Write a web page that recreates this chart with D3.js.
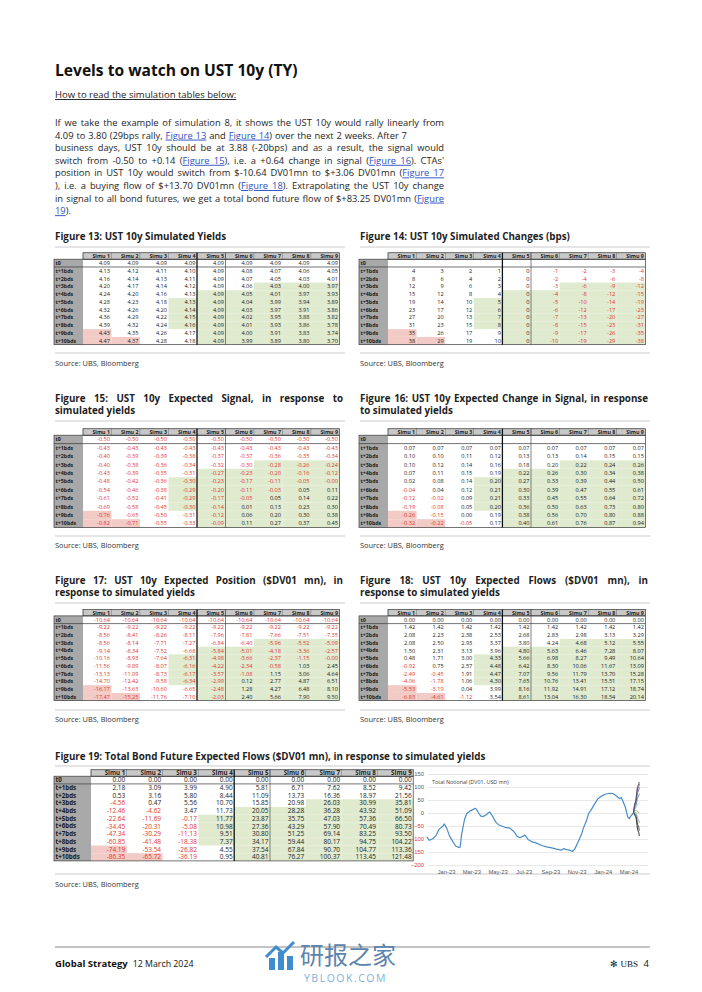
<!DOCTYPE html>
<html>
<head>
<meta charset="utf-8">
<script src="https://cdn.jsdelivr.net/npm/d3@7"></script>
<style>
body { margin: 0; background: #fff; }
svg { display: block; font-family: 'Open Sans', 'Noto Sans', sans-serif; }
text { white-space: pre; }
</style>
</head>
<body>
<svg id="page" width="702" height="992"></svg>
<script>
const simus = ["Simu 1", "Simu 2", "Simu 3", "Simu 4", "Simu 5", "Simu 6", "Simu 7", "Simu 8", "Simu 9"];
const steps = ["t0", "t+1bds", "t+2bds", "t+3bds", "t+4bds", "t+5bds", "t+6bds", "t+7bds", "t+8bds", "t+9bds", "t+10bds"];

// Figure 13 - simulated yields
const yields = [
  [4.09, 4.09, 4.09, 4.09, 4.09, 4.09, 4.09, 4.09, 4.09],
  [4.13, 4.12, 4.11, 4.10, 4.09, 4.08, 4.07, 4.06, 4.05],
  [4.16, 4.14, 4.13, 4.11, 4.09, 4.07, 4.05, 4.03, 4.01],
  [4.20, 4.17, 4.14, 4.12, 4.09, 4.06, 4.03, 4.00, 3.97],
  [4.24, 4.20, 4.16, 4.13, 4.09, 4.05, 4.01, 3.97, 3.93],
  [4.28, 4.23, 4.18, 4.13, 4.09, 4.04, 3.99, 3.94, 3.89],
  [4.32, 4.26, 4.20, 4.14, 4.09, 4.03, 3.97, 3.91, 3.86],
  [4.36, 4.29, 4.22, 4.15, 4.09, 4.02, 3.95, 3.88, 3.82],
  [4.39, 4.32, 4.24, 4.16, 4.09, 4.01, 3.93, 3.86, 3.78],
  [4.43, 4.35, 4.26, 4.17, 4.09, 4.00, 3.91, 3.83, 3.74],
  [4.47, 4.37, 4.28, 4.18, 4.09, 3.99, 3.89, 3.80, 3.70]
];
// Figure 14 - simulated changes (bps)
const yieldChanges = [
  null,
  [4, 3, 2, 1, 0, -1, -2, -3, -4],
  [8, 6, 4, 2, 0, -2, -4, -6, -8],
  [12, 9, 6, 3, 0, -3, -6, -9, -12],
  [15, 12, 8, 4, 0, -4, -8, -12, -15],
  [19, 14, 10, 5, 0, -5, -10, -14, -19],
  [23, 17, 12, 6, 0, -6, -12, -17, -23],
  [27, 20, 13, 7, 0, -7, -13, -20, -27],
  [31, 23, 15, 8, 0, -8, -15, -23, -31],
  [35, 26, 17, 9, 0, -9, -17, -26, -35],
  [38, 29, 19, 10, 0, -10, -19, -29, -38]
];
// Figure 15 - expected signal
const signal = [
  [-0.50, -0.50, -0.50, -0.50, -0.50, -0.50, -0.50, -0.50, -0.50],
  [-0.43, -0.43, -0.43, -0.43, -0.43, -0.43, -0.43, -0.43, -0.43],
  [-0.40, -0.39, -0.39, -0.38, -0.37, -0.37, -0.36, -0.35, -0.34],
  [-0.40, -0.38, -0.36, -0.34, -0.32, -0.30, -0.28, -0.26, -0.24],
  [-0.43, -0.39, -0.35, -0.31, -0.27, -0.23, -0.20, -0.16, -0.12],
  [-0.48, -0.42, -0.36, -0.30, -0.23, -0.17, -0.11, -0.05, -0],
  [-0.54, -0.46, -0.38, -0.29, -0.20, -0.11, -0.03, 0.05, 0.11],
  [-0.61, -0.52, -0.41, -0.29, -0.17, -0.05, 0.05, 0.14, 0.22],
  [-0.69, -0.58, -0.45, -0.30, -0.14, 0.01, 0.13, 0.23, 0.30],
  [-0.76, -0.65, -0.50, -0.31, -0.12, 0.06, 0.20, 0.30, 0.38],
  [-0.82, -0.71, -0.55, -0.33, -0.09, 0.11, 0.27, 0.37, 0.45]
];
// Figure 16 - expected change in signal
const signalChange = [
  null,
  [0.07, 0.07, 0.07, 0.07, 0.07, 0.07, 0.07, 0.07, 0.07],
  [0.10, 0.10, 0.11, 0.12, 0.13, 0.13, 0.14, 0.15, 0.15],
  [0.10, 0.12, 0.14, 0.16, 0.18, 0.20, 0.22, 0.24, 0.26],
  [0.07, 0.11, 0.15, 0.19, 0.22, 0.26, 0.30, 0.34, 0.38],
  [0.02, 0.08, 0.14, 0.20, 0.27, 0.33, 0.39, 0.44, 0.50],
  [-0.04, 0.04, 0.12, 0.21, 0.30, 0.39, 0.47, 0.55, 0.61],
  [-0.12, -0.02, 0.09, 0.21, 0.33, 0.45, 0.55, 0.64, 0.72],
  [-0.19, -0.08, 0.05, 0.20, 0.36, 0.50, 0.63, 0.73, 0.80],
  [-0.26, -0.15, 0.00, 0.19, 0.38, 0.56, 0.70, 0.80, 0.88],
  [-0.32, -0.22, -0.05, 0.17, 0.40, 0.61, 0.76, 0.87, 0.94]
];
// Figure 17 - expected position ($DV01 mn)
const position = [
  [-10.64, -10.64, -10.64, -10.64, -10.64, -10.64, -10.64, -10.64, -10.64],
  [-9.22, -9.22, -9.22, -9.22, -9.22, -9.22, -9.22, -9.22, -9.22],
  [-8.56, -8.41, -8.26, -8.11, -7.96, -7.81, -7.66, -7.51, -7.35],
  [-8.56, -8.14, -7.71, -7.27, -6.84, -6.40, -5.96, -5.52, -5.09],
  [-9.14, -8.34, -7.52, -6.68, -5.84, -5.01, -4.18, -3.36, -2.57],
  [-10.16, -8.93, -7.64, -6.31, -4.98, -3.66, -2.37, -1.15, -0],
  [-11.56, -9.89, -8.07, -6.16, -4.22, -2.34, -0.58, 1.03, 2.45],
  [-13.13, -11.09, -8.73, -6.17, -3.57, -1.08, 1.15, 3.06, 4.64],
  [-14.70, -12.42, -9.58, -6.34, -2.99, 0.12, 2.77, 4.87, 6.51],
  [-16.17, -13.63, -10.60, -6.65, -2.48, 1.28, 4.27, 6.48, 8.10],
  [-17.47, -15.25, -11.76, -7.10, -2.03, 2.40, 5.66, 7.90, 9.50]
];
// Figure 18 - expected flows ($DV01 mn)
const flows = [
  [0.00, 0.00, 0.00, 0.00, 0.00, 0.00, 0.00, 0.00, 0.00],
  [1.42, 1.42, 1.42, 1.42, 1.42, 1.42, 1.42, 1.42, 1.42],
  [2.08, 2.23, 2.38, 2.53, 2.68, 2.83, 2.98, 3.13, 3.29],
  [2.08, 2.50, 2.93, 3.37, 3.80, 4.24, 4.68, 5.12, 5.55],
  [1.50, 2.31, 3.13, 3.96, 4.80, 5.63, 6.46, 7.28, 8.07],
  [0.48, 1.71, 3.00, 4.33, 5.66, 6.98, 8.27, 9.49, 10.64],
  [-0.92, 0.75, 2.57, 4.48, 6.42, 8.30, 10.06, 11.67, 13.09],
  [-2.49, -0.45, 1.91, 4.47, 7.07, 9.56, 11.79, 13.70, 15.28],
  [-4.06, -1.78, 1.06, 4.30, 7.65, 10.76, 13.41, 15.51, 17.15],
  [-5.53, -3.19, 0.04, 3.99, 8.16, 11.92, 14.91, 17.12, 18.74],
  [-6.83, -4.61, -1.12, 3.54, 8.61, 13.04, 16.30, 18.54, 20.14]
];
// Figure 19 - total bond future expected flows ($DV01 mn)
const totalFlows = [
  [0.00, 0.00, 0.00, 0.00, 0.00, 0.00, 0.00, 0.00, 0.00],
  [2.18, 3.09, 3.99, 4.90, 5.81, 6.71, 7.62, 8.52, 9.42],
  [0.53, 3.16, 5.80, 8.44, 11.09, 13.73, 16.36, 18.97, 21.56],
  [-4.56, 0.47, 5.56, 10.70, 15.85, 20.98, 26.03, 30.99, 35.81],
  [-12.46, -4.62, 3.47, 11.73, 20.05, 28.28, 36.28, 43.92, 51.09],
  [-22.64, -11.69, -0.17, 11.77, 23.87, 35.75, 47.03, 57.36, 66.50],
  [-34.45, -20.31, -5.08, 10.98, 27.36, 43.29, 57.90, 70.49, 80.73],
  [-47.34, -30.29, -11.13, 9.51, 30.80, 51.25, 69.14, 83.25, 93.50],
  [-60.85, -41.48, -18.38, 7.37, 34.17, 59.44, 80.17, 94.75, 104.22],
  [-74.19, -53.54, -26.82, 4.55, 37.54, 67.84, 90.70, 104.77, 113.36],
  [-86.35, -65.72, -36.19, 0.95, 40.81, 76.27, 100.37, 113.45, 121.48]
];

// Total notional history (DV01, USD mn)
const notionalDates = ["2022-11-17","2022-11-23","2022-12-01","2022-12-09","2022-12-16","2022-12-24","2022-12-28","2023-01-03","2023-01-09","2023-01-17","2023-01-24","2023-02-01","2023-02-03","2023-02-06","2023-02-13","2023-02-18","2023-02-26","2023-03-06","2023-03-09","2023-03-13","2023-03-17","2023-03-23","2023-03-29","2023-04-04","2023-04-09","2023-04-13","2023-04-17","2023-04-27","2023-05-03","2023-05-11","2023-05-18","2023-05-30","2023-06-07","2023-06-16","2023-06-22","2023-07-04","2023-07-11","2023-07-19","2023-07-31","2023-08-12","2023-08-23","2023-09-04","2023-09-15","2023-09-27","2023-10-01","2023-10-09","2023-10-16","2023-10-22","2023-10-28","2023-11-05","2023-11-13","2023-11-16","2023-11-24","2023-11-29","2023-12-06","2023-12-14","2023-12-21","2023-12-29","2024-01-06","2024-01-17","2024-01-25","2024-01-29","2024-02-06","2024-02-10","2024-02-13","2024-02-17","2024-02-23","2024-02-28","2024-03-03","2024-03-06","2024-03-12"];
const notionalValues = [-92,-105,-99,-86,-62,-52,-42,-60,-88,-110,-128,-133,-131,-85,-25,-3,8,14,18,14,2,-12,-13,-8,0,4,-6,-35,-45,-50,-55,-58,-70,-90,-95,-85,-102,-110,-116,-125,-130,-134,-139,-143,-137,-141,-143,-148,-138,-110,-80,-62,-30,-2,15,38,55,65,72,76,75,70,60,55,60,45,20,-15,-22,-12,-2];
// next ten business days for the simulated paths
const fanDates = ["2024-03-13","2024-03-14","2024-03-15","2024-03-18","2024-03-19","2024-03-20","2024-03-21","2024-03-22","2024-03-25","2024-03-26"];
const fanColors = ["#1a1a1a", "#3d3d3d", "#7fa3a0", "#9bbb59", "#a9d3c6", "#6f8fb0", "#8064a2", "#6a5a7e", "#4d4d5c"];
const yTicks = [150, 100, 50, 0, -50, -100, -150, -200];
const xTickDates = ["2023-01-01","2023-03-01","2023-05-01","2023-07-01","2023-09-01","2023-11-01","2024-01-01","2024-03-01"];

const RED = "#e2352f", GREEN = "#e0eacf", PINK = "#f3cbc6", LINK = "#2f4fc4";
const HEAD_H = 6.4;
const svg = d3.select("#page");
const parseDate = d3.timeParse("%Y-%m-%d");

/* page heading and intro paragraph */
svg.append("text").attr("x", 55).attr("y", 76).attr("font-size", 15.6).attr("font-weight", 700)
  .attr("fill", "#111").text("Levels to watch on UST 10y (TY)");
svg.append("text").attr("x", 55).attr("y", 98).attr("font-size", 9.5).attr("fill", "#222")
  .attr("text-decoration", "underline").text("How to read the simulation tables below:");

const paraLines = [
  [["If we take the example of simulation 8, it shows the UST 10y would rally linearly from"]],
  [["4.09 to 3.80 (29bps rally, "], ["Figure 13", 1], [" and "], ["Figure 14", 1], [") over the next 2 weeks. After 7"]],
  [["business days, UST 10y should be at 3.88 (-20bps) and as a result, the signal would"]],
  [["switch from -0.50 to +0.14 ("], ["Figure 15", 1], ["), i.e. a +0.64 change in signal ("], ["Figure 16", 1], ["). CTAs'"]],
  [["position in UST 10y would switch from $-10.64 DV01mn to $+3.06 DV01mn ("], ["Figure 17", 1]],
  [["), i.e. a buying flow of $+13.70 DV01mn ("], ["Figure 18", 1], ["). Extrapolating the UST 10y change"]],
  [["in signal to all bond futures, we get a total bond future flow of $+83.25 DV01mn ("], ["Figure", 1]],
  [["19", 1], [")."]]
];
const paraWidths = [389, 352, 389, 389, 389, 389, 389, 0];

/* writes one line of text, spreading its words over the given width */
function justifyLine(x, y, segs, width, size, weight) {
  const t = svg.append("text").attr("x", x).attr("y", y).attr("font-size", size)
    .attr("font-weight", weight || 400).attr("fill", "#1e1e1e");
  segs.forEach(s => {
    const sp = t.append("tspan").text(s[0]);
    if (s[1]) sp.attr("fill", LINK).attr("text-decoration", "underline");
  });
  if (width > 0) {
    const full = segs.map(s => s[0]).join("");
    const gaps = (full.match(/ /g) || []).length;
    const natural = t.node().getComputedTextLength();
    if (gaps) t.attr("word-spacing", (width - natural) / gaps);
  }
  return t;
}
paraLines.forEach((segs, i) => justifyLine(55, 126 + i * 12.6, segs, paraWidths[i], 9.35));

/* figure titles (first line justified when the title wraps), separators and sources */
function figureTitle(x, y, lines, width) {
  const t = svg.append("text").attr("x", x).attr("y", y).attr("font-size", 9.8)
    .attr("font-weight", 700).attr("fill", "#1e1e1e");
  lines.forEach((l, i) => {
    const sp = t.append("tspan").attr("x", x).attr("dy", i ? 12 : 0).text(l);
    if (i < lines.length - 1 && width > 0) {
      const gaps = (l.match(/ /g) || []).length;
      const natural = sp.node().getComputedTextLength();
      sp.attr("word-spacing", (width - natural) / gaps);
    }
  });
}
function rule(x1, x2, y, color, w) {
  svg.append("line").attr("x1", x1).attr("x2", x2).attr("y1", y).attr("y2", y)
    .attr("stroke", color || "#dcdcdc").attr("stroke-width", w || 1.5);
}
function source(x, y) {
  svg.append("text").attr("x", x).attr("y", y).attr("font-size", 7.4).attr("fill", "#333")
    .text("Source: UBS, Bloomberg");
}

figureTitle(55, 240, ["Figure 13: UST 10y Simulated Yields"], 288);
figureTitle(360, 240, ["Figure 14: UST 10y Simulated Changes (bps)"], 288);
figureTitle(55, 402, ["Figure 15: UST 10y Expected Signal, in response to", "simulated yields"], 288);
figureTitle(360, 402, ["Figure 16: UST 10y Expected Change in Signal, in response", "to simulated yields"], 288);
figureTitle(55, 584, ["Figure 17: UST 10y Expected Position ($DV01 mn), in", "response to simulated yields"], 288);
figureTitle(360, 584, ["Figure 18: UST 10y Expected Flows ($DV01 mn), in", "response to simulated yields"], 288);
figureTitle(55, 760, ["Figure 19: Total Bond Future Expected Flows ($DV01 mn), in response to simulated yields"], 0);

[[55, 345], [360, 650]].forEach(([a, b]) => {
  rule(a, b, 247); rule(a, b, 353);
  rule(a, b, 421); rule(a, b, 536);
  rule(a, b, 603); rule(a, b, 710);
});
rule(55, 650, 766); rule(55, 650, 874);
[55, 360].forEach(x => { source(x, 366); source(x, 548); source(x, 722); });
source(55, 887);

/* cell shading is the same on every simulation table */
function shade(r, c) {
  if ((c === 0 && r >= 9) || (c === 1 && r === 10)) return PINK;
  if ((c === 3 && r >= 5 && r <= 8) || ((c === 4 || c === 5) && r >= 4) || (c >= 6 && r >= 3)) return GREEN;
  return null;
}
function fmt(v, dec) {
  if (v === null || v === undefined) return "";
  if (Object.is(v, -0)) return "-" + (0).toFixed(dec);
  return v.toFixed(dec);
}

function drawTable(cfg) {
  const g = svg.append("g");
  const cols = d3.range(simus.length), rows = d3.range(steps.length);
  const xs = d3.scaleBand().domain(cols).range([cfg.x + cfg.labelW, cfg.x + cfg.labelW + cfg.colW * cols.length]);
  const ys = d3.scaleBand().domain(rows).range([cfg.y + HEAD_H, cfg.y + HEAD_H + cfg.rowH * rows.length]);
  const right = xs.range()[1], top = cfg.y, bodyTop = cfg.y + HEAD_H, bottom = ys.range()[1];

  const cells = [];
  rows.forEach(r => cols.forEach(c => {
    cells.push({ r: r, c: c, v: cfg.data[r] ? cfg.data[r][c] : null });
  }));

  g.selectAll("rect.fill").data(cells.filter(d => shade(d.r, d.c))).join("rect")
    .attr("x", d => xs(d.c)).attr("y", d => ys(d.r))
    .attr("width", xs.bandwidth()).attr("height", ys.bandwidth())
    .attr("fill", d => shade(d.r, d.c));

  g.append("rect").attr("x", cfg.x).attr("y", bodyTop).attr("width", cfg.labelW)
    .attr("height", bottom - bodyTop).attr("fill", "#a8a8a8");

  g.selectAll("rect.head").data(cols).join("rect")
    .attr("x", c => xs(c)).attr("y", top).attr("width", xs.bandwidth()).attr("height", HEAD_H)
    .attr("fill", "#c8c8c8").attr("stroke", "#707070").attr("stroke-width", 0.4);

  g.selectAll("text.head").data(simus).join("text")
    .attr("x", (d, i) => xs(i) + xs.bandwidth() - 1.5).attr("y", top + HEAD_H / 2)
    .attr("dy", "0.36em").attr("text-anchor", "end")
    .attr("font-size", cfg.fs - 0.3).attr("font-weight", 700).attr("fill", "#222").text(d => d);

  g.selectAll("text.lab").data(steps).join("text")
    .attr("x", cfg.x + 1.5).attr("y", (d, i) => ys(i) + ys.bandwidth() / 2)
    .attr("dy", "0.36em").attr("font-size", cfg.fs - 0.3).attr("font-weight", 700)
    .attr("fill", "#1a1a1a").text(d => d);

  g.selectAll("text.val").data(cells).join("text")
    .attr("x", d => xs(d.c) + xs.bandwidth() - 1.5).attr("y", d => ys(d.r) + ys.bandwidth() / 2)
    .attr("dy", "0.36em").attr("text-anchor", "end").attr("font-size", cfg.fs)
    .attr("fill", d => (d.v < 0 || Object.is(d.v, -0)) ? RED : "#222")
    .text(d => fmt(d.v, cfg.dec));

  g.append("rect").attr("x", cfg.x).attr("y", bodyTop).attr("width", right - cfg.x)
    .attr("height", bottom - bodyTop).attr("fill", "none").attr("stroke", "#3a3a3a").attr("stroke-width", 0.7);
  g.append("rect").attr("x", xs(0)).attr("y", top).attr("width", right - xs(0))
    .attr("height", HEAD_H).attr("fill", "none").attr("stroke", "#3a3a3a").attr("stroke-width", 0.6);
  g.append("line").attr("x1", cfg.x).attr("x2", right).attr("y1", ys(1)).attr("y2", ys(1))
    .attr("stroke", "#3a3a3a").attr("stroke-width", 0.7);
  g.append("line").attr("x1", xs(4)).attr("x2", xs(4)).attr("y1", top).attr("y2", bottom)
    .attr("stroke", "#111").attr("stroke-width", 1.3);
  g.append("line").attr("x1", xs(5)).attr("x2", xs(5)).attr("y1", top).attr("y2", bottom)
    .attr("stroke", "#333").attr("stroke-width", 0.6);
}

drawTable({ data: yields, x: 54, y: 252.8, labelW: 29, colW: 28.5, rowH: 7.77, dec: 2, fs: 5.6 });
drawTable({ data: yieldChanges, x: 359, y: 252.8, labelW: 29, colW: 28.6, rowH: 7.77, dec: 0, fs: 5.6 });
drawTable({ data: signal, x: 54, y: 428.8, labelW: 29, colW: 28.5, rowH: 8.4, dec: 2, fs: 5.6 });
drawTable({ data: signalChange, x: 359, y: 428.8, labelW: 29, colW: 28.6, rowH: 8.4, dec: 2, fs: 5.6 });
drawTable({ data: position, x: 54, y: 609.5, labelW: 29, colW: 28.5, rowH: 7.7, dec: 2, fs: 5.6 });
drawTable({ data: flows, x: 359, y: 609.5, labelW: 29, colW: 28.6, rowH: 7.7, dec: 2, fs: 5.6 });
drawTable({ data: totalFlows, x: 54, y: 769.8, labelW: 37, colW: 35.8, rowH: 7.7, dec: 2, fs: 6.5 });

/* figure 19 right: total notional line with simulated paths */
const chart = svg.append("g");
const xS = d3.scaleTime().domain([new Date(2022, 10, 20), new Date(2024, 3, 20)]).range([428, 650]);
const yS = d3.scaleLinear().domain([-200, 150]).range([865, 774]);

const yAxis = chart.append("g").attr("transform", "translate(428,0)")
  .call(d3.axisLeft(yS).tickValues(yTicks).tickSize(-220).tickPadding(4));
yAxis.select(".domain").remove();
yAxis.selectAll(".tick line").attr("stroke", "#d9d9d9").attr("stroke-width", 0.6);
yAxis.selectAll(".tick text").attr("font-size", 5.8).attr("font-family", null)
  .attr("fill", d => d < 0 ? RED : "#595959");

const xAxis = chart.append("g").attr("transform", "translate(0,865)")
  .call(d3.axisBottom(xS).tickValues(xTickDates.map(parseDate))
    .tickFormat(d3.timeFormat("%b-%y")).tickSize(0).tickPadding(5));
xAxis.select(".domain").remove();
xAxis.selectAll(".tick text").attr("font-size", 5.8).attr("font-family", null).attr("fill", "#595959");

chart.append("text").attr("x", 432).attr("y", 784).attr("font-size", 5.4).attr("fill", "#404040")
  .text("Total Notional (DV01, USD mn)");

const history = notionalDates.map((d, i) => ({ date: parseDate(d), value: notionalValues[i] }));
const line = d3.line().x(d => xS(d.date)).y(d => yS(d.value));
const last = history[history.length - 1];

simus.forEach((s, c) => {
  const path = [last].concat(fanDates.map((d, i) => ({ date: parseDate(d), value: last.value + totalFlows[i + 1][c] })));
  chart.append("path").datum(path).attr("d", line).attr("fill", "none")
    .attr("stroke", fanColors[c]).attr("stroke-width", 0.9);
});
chart.append("path").datum(history).attr("d", line).attr("fill", "none")
  .attr("stroke", "#4a8cc4").attr("stroke-width", 1.2).attr("stroke-linejoin", "round");

/* footer */
rule(55, 650, 947, "#8a8a8a", 1.2);
svg.append("text").attr("x", 55).attr("y", 967).attr("font-size", 9.5).attr("fill", "#111")
  .call(t => {
    t.append("tspan").attr("font-weight", 700).text("Global Strategy");
    t.append("tspan").attr("dx", 5).attr("font-size", 8.8).text("12 March 2024");
  });
svg.append("text").attr("x", 638).attr("y", 967).attr("text-anchor", "end").attr("font-size", 9)
  .attr("font-family", "'Liberation Serif', serif").attr("fill", "#111").text("\u273B UBS");
svg.append("text").attr("x", 649).attr("y", 967).attr("text-anchor", "end").attr("font-size", 9.5)
  .attr("fill", "#111").text("4");

/* site watermark */
const wm = svg.append("g");
wm.append("path").attr("d", "M269,970 L269,958 L275,958 L275,970 Z M278,970 L278,952 L284,952 L284,970 Z M287,970 L287,956 L293,956 L293,970 Z")
  .attr("fill", "#3f8ccf");
wm.append("path").attr("d", "M266,957 L276,947 L283,953 L294,942").attr("fill", "none")
  .attr("stroke", "#3f8ccf").attr("stroke-width", 3);
wm.append("text").attr("x", 300).attr("y", 964).attr("font-size", 24)
  .attr("font-family", "'Noto Sans CJK SC', sans-serif").attr("fill", "#5d84ad").text("研报之家");
wm.append("text").attr("x", 304).attr("y", 982).attr("font-size", 10.5).attr("letter-spacing", 1.5)
  .attr("fill", "#7fb0dc").text("YBLOOK.COM");
</script>
</body>
</html>
